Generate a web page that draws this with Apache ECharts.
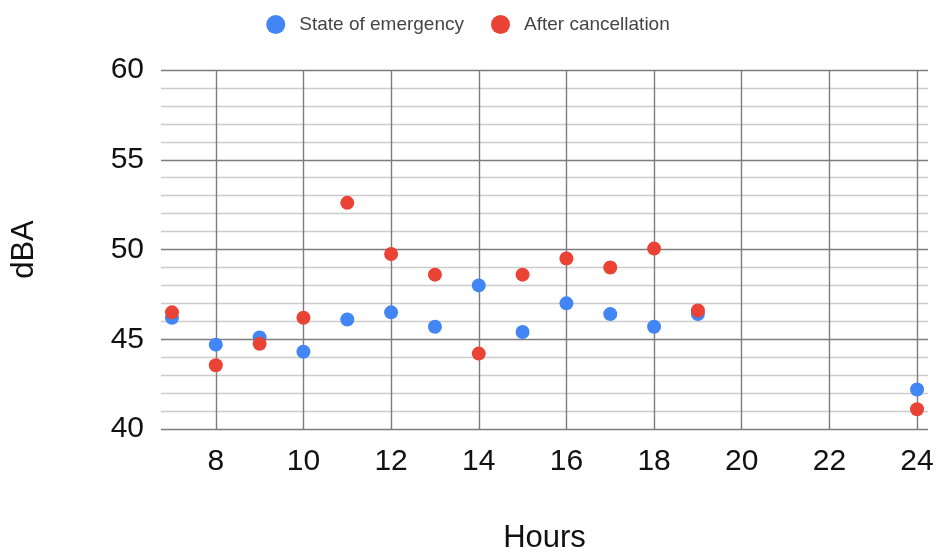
<!DOCTYPE html>
<html>
<head>
<meta charset="utf-8">
<script src="https://cdn.jsdelivr.net/npm/echarts@6/dist/echarts.min.js"></script>
<style>html,body{margin:0;padding:0;background:#fff}#c{width:936px;height:557px}</style>
</head>
<body>
<div id="c"></div>
<script>
const hours = [7, 8, 9, 10, 11, 12, 13, 14, 15, 16, 17, 18, 19, 24];
const stateOfEmergency = [46.2, 44.7, 45.1, 44.3, 46.1, 46.5, 45.7, 48.0, 45.4, 47.0, 46.4, 45.7, 46.4, 42.2];
const afterCancellation = [46.5, 43.55, 44.75, 46.2, 52.6, 49.75, 48.6, 44.2, 48.6, 49.5, 49.0, 50.05, 46.6, 41.1];
const xTicks = [8, 10, 12, 14, 16, 18, 20, 22, 24];
const seriesNames = ['State of emergency', 'After cancellation'];

const font = 'Arial, "Liberation Sans", sans-serif';
const chart = echarts.init(document.getElementById('c'), null, {renderer: 'canvas'});
chart.setOption({
  animation: false,
  backgroundColor: '#ffffff',
  legend: {
    top: 10,
    left: 'center',
    itemWidth: 19,
    itemHeight: 19,
    itemGap: 27,
    icon: 'circle',
    textStyle: {fontFamily: font, fontSize: 19, color: '#444', padding: [0, 0, 0, 9]},
    data: seriesNames
  },
  grid: {left: 161, right: 8, top: 70, height: 359, containLabel: false, outerBoundsMode: 'none'},
  xAxis: {
    type: 'value',
    min: 6.75,
    max: 24.25,
    name: 'Hours',
    nameLocation: 'middle',
    nameGap: 94,
    nameTextStyle: {fontFamily: font, fontSize: 31, color: '#111'},
    axisLine: {show: false},
    axisTick: {show: false, customValues: xTicks},
    axisLabel: {customValues: xTicks, fontFamily: font, fontSize: 30, color: '#111', margin: 18},
    splitLine: {show: true, lineStyle: {color: '#7d7d7d', width: 1.4}}
  },
  yAxis: {
    type: 'value',
    min: 40,
    max: 60,
    interval: 5,
    name: 'dBA',
    nameLocation: 'middle',
    nameGap: 121,
    nameTextStyle: {fontFamily: font, fontSize: 31, color: '#111'},
    axisLine: {show: false},
    axisTick: {show: false},
    minorTick: {show: false, splitNumber: 5},
    minorSplitLine: {show: true, lineStyle: {color: '#cccccc', width: 1.4}},
    axisLabel: {fontFamily: font, fontSize: 30, color: '#111', margin: 17},
    splitLine: {show: true, lineStyle: {color: '#7d7d7d', width: 1.4}}
  },
  series: [
    {
      name: seriesNames[0], type: 'scatter', symbolSize: 14,
      itemStyle: {color: '#4285F4', opacity: 1},
      data: hours.map((h, i) => [h, stateOfEmergency[i]])
    },
    {
      name: seriesNames[1], type: 'scatter', symbolSize: 14,
      itemStyle: {color: '#EA4335', opacity: 1},
      data: hours.map((h, i) => [h, afterCancellation[i]])
    }
  ]
});
</script>
</body>
</html>
